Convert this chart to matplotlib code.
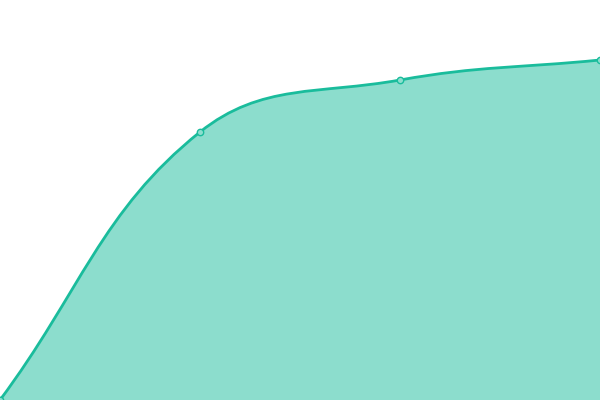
import numpy as np
import matplotlib
matplotlib.use("Agg")
import matplotlib.pyplot as plt
from matplotlib.path import Path
from matplotlib.patches import PathPatch

# data
x_vals = [0, 1, 2, 3]
y_vals = [0, 67, 80, 85]

LINE = "#1abc9c"
TENSION = 0.4


def spline_path(ax, x, y, close_to=None):
    # tension spline, control points worked out in pixel space
    to_px = ax.transData
    pts = to_px.transform(np.column_stack([x, y]))
    n = len(pts)
    prev_cp = [None] * n
    next_cp = [None] * n
    for i in range(n):
        p = pts[max(i - 1, 0)]
        c = pts[i]
        nx = pts[min(i + 1, n - 1)]
        d01 = np.hypot(*(c - p))
        d12 = np.hypot(*(nx - c))
        tot = d01 + d12
        s01 = d01 / tot if tot else 0
        s12 = d12 / tot if tot else 0
        prev_cp[i] = c - TENSION * s01 * (nx - p)
        next_cp[i] = c + TENSION * s12 * (nx - p)
    verts = [pts[0]]
    codes = [Path.MOVETO]
    for i in range(n - 1):
        verts += [next_cp[i], prev_cp[i + 1], pts[i + 1]]
        codes += [Path.CURVE4] * 3
    verts = list(to_px.inverted().transform(np.array(verts)))
    if close_to is not None:
        verts += [(x[-1], close_to), (x[0], close_to), (x[0], y[0])]
        codes += [Path.LINETO, Path.LINETO, Path.CLOSEPOLY]
    return Path(verts, codes)


fig = plt.figure(figsize=(6, 4), dpi=100)
ax = fig.add_axes([0, 0, 1, 1])
ax.set_xlim(0, 3)
ax.set_ylim(0, 100)
ax.axis("off")

ax.add_patch(PathPatch(spline_path(ax, x_vals, y_vals, close_to=0),
                       facecolor=LINE, alpha=0.5, edgecolor="none"))
ax.add_patch(PathPatch(spline_path(ax, x_vals, y_vals), facecolor="none",
                       edgecolor=LINE, lw=2.0, capstyle="round"))
ax.plot(x_vals, y_vals, "o", ms=4.6, mfc="#8ddece", mec=LINE, mew=1.0)

fig.savefig("out.png", dpi=100)
